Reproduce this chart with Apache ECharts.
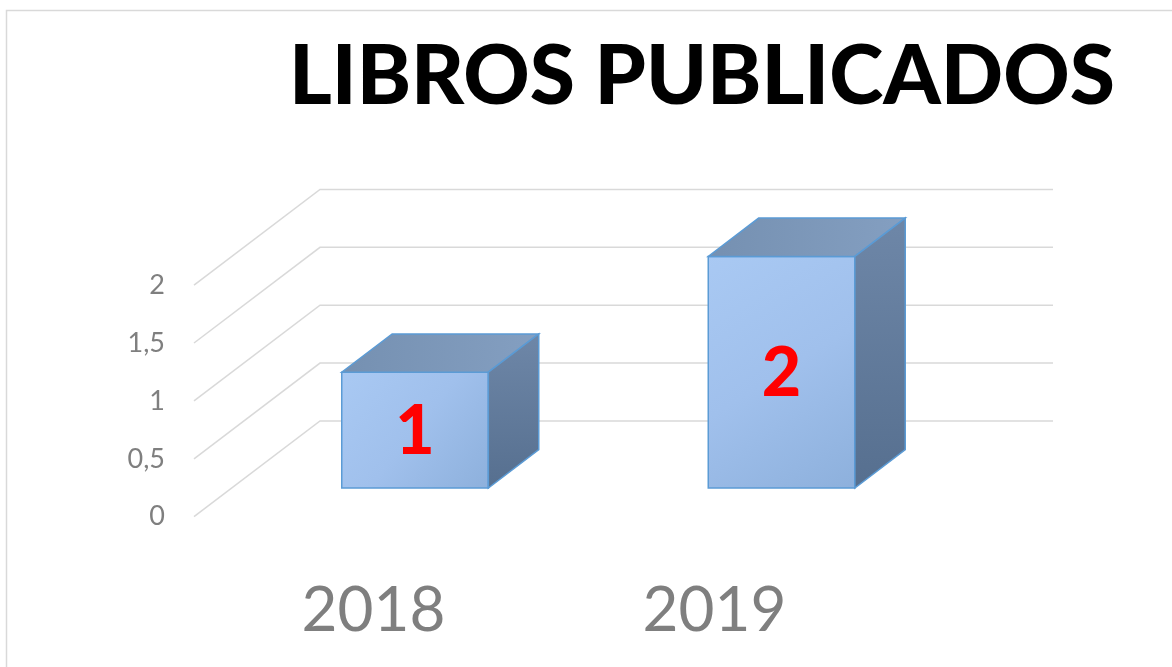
<!DOCTYPE html>
<html>
<head>
<meta charset="utf-8">
<script src="https://cdn.jsdelivr.net/npm/echarts@6/dist/echarts.min.js"></script>
<style>
html, body { margin: 0; padding: 0; background: #fff; }
#chart { width: 1172px; height: 667px; }
</style>
</head>
<body>
<div id="chart"></div>
<script>
var years = ['2018', '2019'];
var libros = [1, 2];
var yTicks = [0, 0.5, 1, 1.5, 2];

// depth of the 3D floor in pixels (front edge -> back wall)
var DX = 126, DY = -95.7;

var chart = echarts.init(document.getElementById('chart'));

function renderWall(params, api) {
	var cs = params.coordSys;
	var y = api.coord([0, api.value(1)])[1];
	var x0 = cs.x;
	return {
		type: 'polyline',
		shape: { points: [[x0, y], [x0 + DX, y + DY], [x0 + DX + cs.width, y + DY]] },
		style: { stroke: '#d9d9d9', lineWidth: 1.5, fill: null }
	};
}

function renderBox(params, api) {
	var base = api.coord([api.value(0), 0]);
	var top = api.coord([api.value(0), api.value(1)]);
	var bw = api.size([1, 0])[0] * 0.4;
	var ox = DX * 0.3, oy = DY * 0.3;
	var dx = DX * 0.4, dy = DY * 0.4;
	var l = base[0] - bw / 2 + ox, r = base[0] + bw / 2 + ox;
	var yb = base[1] + oy, yt = top[1] + oy;
	var edge = '#5b9bd5';
	return {
		type: 'group',
		children: [{
			type: 'polygon',
			shape: { points: [[l, yt], [r, yt], [r, yb], [l, yb]] },
			style: {
				fill: { type: 'linear', x: 0, y: 0, x2: 1, y2: 1, colorStops: [
					{ offset: 0, color: '#a9c9f3' }, { offset: 0.5, color: '#a0c0ec' }, { offset: 1, color: '#8db0dc' }] },
				stroke: edge, lineWidth: 1.5
			}
		}, {
			type: 'polygon',
			shape: { points: [[l, yt], [r, yt], [r + dx, yt + dy], [l + dx, yt + dy]] },
			style: {
				fill: { type: 'linear', x: 0, y: 0, x2: 1, y2: 0, colorStops: [
					{ offset: 0, color: '#7590b1' }, { offset: 1, color: '#849fc1' }] },
				stroke: edge, lineWidth: 1.5
			}
		}, {
			type: 'polygon',
			shape: { points: [[r, yt], [r + dx, yt + dy], [r + dx, yb + dy], [r, yb]] },
			style: {
				fill: { type: 'linear', x: 0, y: 0, x2: 0, y2: 1, colorStops: [
					{ offset: 0, color: '#6e87a8' }, { offset: 1, color: '#566f8f' }] },
				stroke: edge, lineWidth: 1.5
			}
		}, {
			type: 'text',
			style: {
				text: String(api.value(1)),
				x: (l + r) / 2, y: (yt + yb) / 2 + 2,
				align: 'center', verticalAlign: 'middle',
				fill: '#ff0000', fontSize: 68, fontWeight: 900, fontFamily: 'Lato'
			}
		}]
	};
}

var option = {
	animation: false,
	backgroundColor: '#fff',
	graphic: [{
		type: 'rect',
		shape: { x: 6.5, y: 10.5, width: 1300, height: 800 },
		style: { fill: null, stroke: '#d9d9d9', lineWidth: 1.5 },
		silent: true
	}],
	title: {
		text: 'LIBROS PUBLICADOS',
		left: 284,
		top: 32,
		textStyle: { fontSize: 82, fontWeight: 900, fontFamily: 'Lato', color: '#000' }
	},
	grid: [
		{ left: 194, top: 285.1, width: 733, height: 231.6 },
		{ left: 203, top: 300, width: 682, height: 216 }
	],
	xAxis: [{
		type: 'category', data: years, gridIndex: 0,
		axisLine: { show: false }, axisTick: { show: false }, axisLabel: { show: false }
	}, {
		type: 'category', data: years, gridIndex: 1,
		axisLine: { show: false }, axisTick: { show: false },
		axisLabel: { margin: 64, fontSize: 62, color: '#7f7f7f', fontFamily: 'Lato' }
	}],
	yAxis: [{
		type: 'value', gridIndex: 0, min: 0, max: 2, interval: 0.5,
		axisLine: { show: false }, axisTick: { show: false }, splitLine: { show: false },
		axisLabel: {
			margin: 29, fontSize: 27, color: '#7f7f7f', fontFamily: 'Lato',
			formatter: function (v) { return String(v).replace('.', ','); }
		}
	}, {
		type: 'value', gridIndex: 1, show: false
	}],
	series: [{
		type: 'custom', xAxisIndex: 0, yAxisIndex: 0, z: 1,
		renderItem: renderWall,
		data: yTicks.map(function (v) { return [0, v]; })
	}, {
		type: 'custom', xAxisIndex: 0, yAxisIndex: 0, z: 2,
		renderItem: renderBox,
		data: libros.map(function (v, i) { return [i, v]; })
	}]
};

chart.setOption(option);
</script>
</body>
</html>
